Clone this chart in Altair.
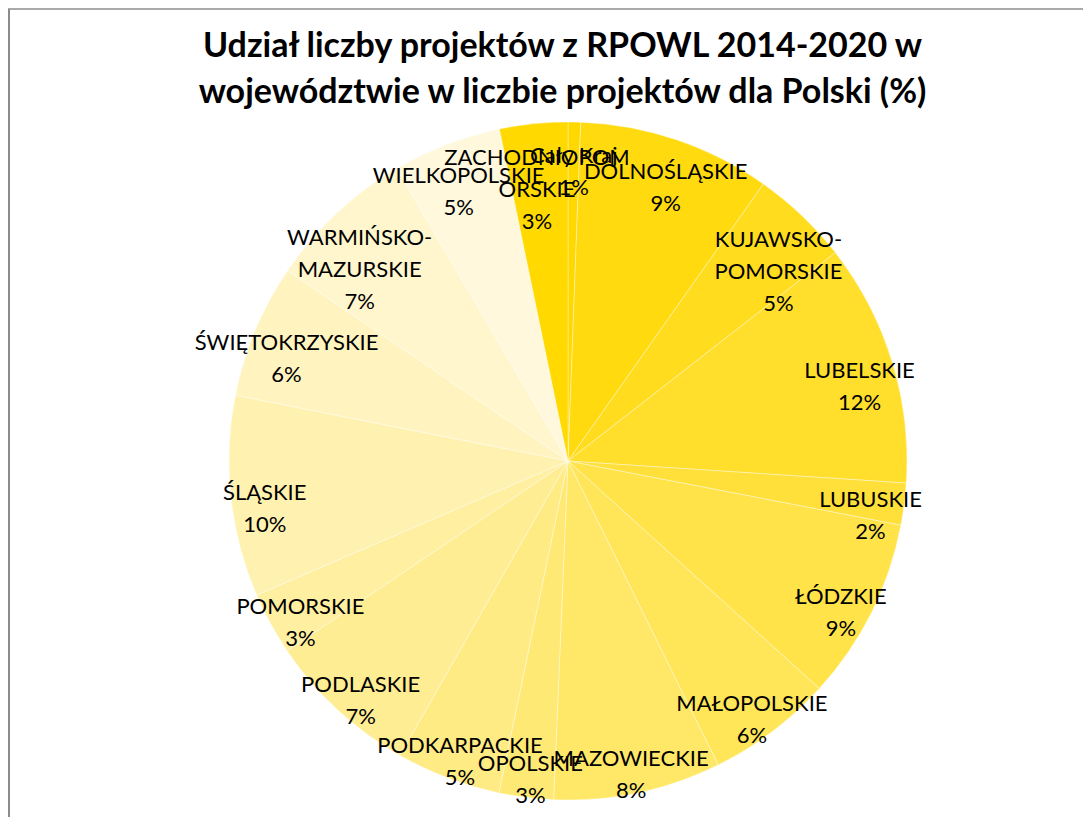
import altair as alt
import pandas as pd

categories = ["Cały Kraj", "DOLNOŚLĄSKIE", "KUJAWSKO-POMORSKIE", "LUBELSKIE", "LUBUSKIE",
              "ŁÓDZKIE", "MAŁOPOLSKIE", "MAZOWIECKIE", "OPOLSKIE", "PODKARPACKIE",
              "PODLASKIE", "POMORSKIE", "ŚLĄSKIE", "ŚWIĘTOKRZYSKIE", "WARMIŃSKO-MAZURSKIE",
              "WIELKOPOLSKIE", "ZACHODNIOPOMORSKIE"]
label_names = ["Cały Kraj", "DOLNOŚLĄSKIE", "KUJAWSKO-\nPOMORSKIE", "LUBELSKIE", "LUBUSKIE",
               "ŁÓDZKIE", "MAŁOPOLSKIE", "MAZOWIECKIE", "OPOLSKIE", "PODKARPACKIE",
               "PODLASKIE", "POMORSKIE", "ŚLĄSKIE", "ŚWIĘTOKRZYSKIE", "WARMIŃSKO-\nMAZURSKIE",
               "WIELKOPOLSKIE", "ZACHODNIOPOM\nORSKIE"]
shares = [0.6, 9.2, 4.7, 11.6, 2.0, 8.7, 6.0, 8.0, 2.6, 5.0, 7.3, 3.0, 9.6, 6.4, 7.1, 5.2, 3.25]
pct_labels = ["1%", "9%", "5%", "12%", "2%", "9%", "6%", "8%", "3%", "5%", "7%", "3%",
              "10%", "6%", "7%", "5%", "3%"]
colors = ["#FFD800", "#FFDA0F", "#FFDC1D", "#FFDE2C", "#FFE03B", "#FFE349", "#FFE558",
          "#FFE767", "#FFE975", "#FFEB84", "#FFED93", "#FFEFA1", "#FFF2B0", "#FFF4BF",
          "#FFF6CD", "#FFF8DC", "#FFD900"]
title_lines = ["Udział liczby projektów z RPOWL 2014-2020 w",
               "województwie w liczbie projektów dla Polski (%)"]

df = pd.DataFrame({
    "idx": list(range(len(categories))),
    "category": categories,
    "share": shares,
    "label": [n + "\n" + p for n, p in zip(label_names, pct_labels)],
})

CX, CY = 560, 353

base = alt.Chart(df).encode(
    theta=alt.Theta("share:Q", stack=True),
    order=alt.Order("idx:Q"),
)

arcs = base.mark_arc(radius=339, stroke="white", strokeWidth=0.6, strokeOpacity=0.6).encode(
    color=alt.Color("category:N", scale=alt.Scale(domain=categories, range=colors), legend=None),
    x=alt.value(CX), y=alt.value(CY),
)

texts = base.mark_text(radius=305, font="Lato", fontSize=22, lineBreak="\n", lineHeight=32,
                       align="center", baseline="middle", color="black").encode(
    text="label:N", detail="category:N",
    x=alt.value(CX), y=alt.value(CY),
)

frame_df = pd.DataFrame({"k": [0]})
left_line = alt.Chart(frame_df).mark_rule(color="#8c8c8c", strokeWidth=2).encode(
    x=alt.value(1), y=alt.value(-99), y2=alt.value(709))
top_line = alt.Chart(frame_df).mark_rule(color="#8c8c8c", strokeWidth=1.5).encode(
    x=alt.value(0), x2=alt.value(1075), y=alt.value(-99))

chart = alt.layer(arcs, texts, left_line, top_line).properties(
    width=1075, height=709,
    autosize=alt.AutoSizeParams(type="none"),
    padding={"top": 100, "left": 0, "right": 0, "bottom": 0},
    title=alt.TitleParams(text=title_lines, font="Lato", fontSize=34, fontWeight="bold",
                          color="black", anchor="middle", lineHeight=46, offset=-102, dx=17),
).configure_view(stroke=None)

chart.save("out.html", embed_options={"renderer": "svg", "actions": False})
